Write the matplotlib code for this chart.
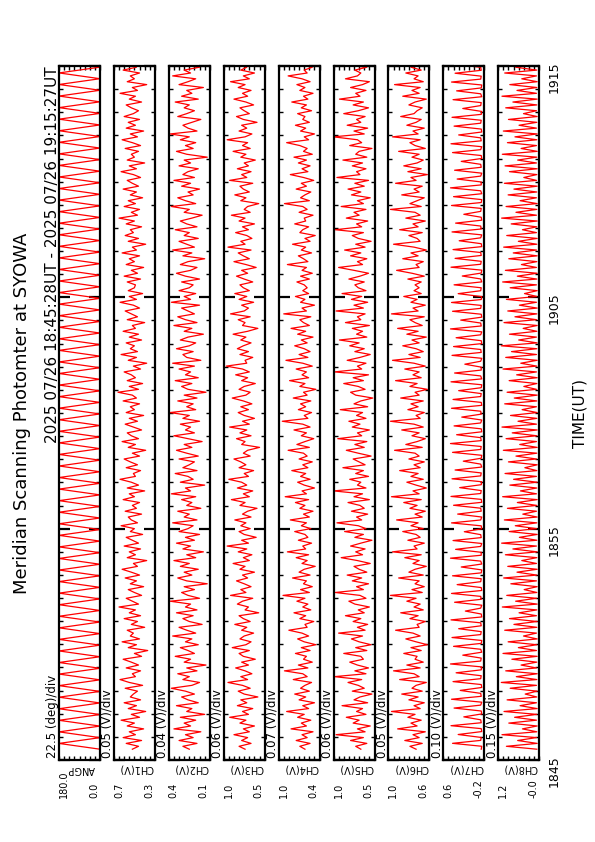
import numpy as np
import matplotlib.pyplot as plt

# figure size in pixels (portrait page, plot drawn rotated)
W, H = 595, 842

names = ['ANGP', 'CH1(V)', 'CH2(V)', 'CH3(V)', 'CH4(V)', 'CH5(V)', 'CH6(V)', 'CH7(V)', 'CH8(V)']
lows = [0.0, 0.30, 0.10, 0.50, 0.40, 0.50, 0.60, -0.20, -0.01]
highs = [180.0, 0.70, 0.42, 0.98, 0.96, 0.98, 1.00, 0.60, 1.19]
divs = ['22.5 (deg)/div', '0.05 (V)/div', '0.04 (V)/div', '0.06 (V)/div', '0.07 (V)/div',
        '0.06 (V)/div', '0.05 (V)/div', '0.10 (V)/div', '0.15 (V)/div']

# time in minutes after 18:45 UT
time_ticks = [0, 10, 20, 30]
time_labels = ['1845', '1855', '1905', '1915']
t_start, t_end = 28 / 60, 30 + 27 / 60

# scan angle (deg), turning points of each sweep
ANGP = [0, 180, 0, 180, 0, 180, 0, 180, 0, 180, 0, 180, 0, 180, 0, 180, 0, 180, 0, 180,
        0, 180, 0, 180, 0, 180, 0, 180, 0, 180, 0, 180, 0, 180, 0, 180, 0, 180, 0, 180,
        0, 180, 0, 180, 0, 180, 0, 180, 0, 180, 0, 180, 0, 180, 0, 180, 0, 180, 0, 180,
        0, 180, 0, 180, 0, 180, 0, 180, 0, 180, 0, 180, 0, 180, 0, 180, 0, 180, 0, 180,
        0, 180, 0, 180, 0, 180, 0, 180, 0, 180, 0, 180, 0, 180, 0, 180, 0, 180, 0, 180,
        0, 180, 0, 180, 0, 180, 0, 180, 0, 180, 0, 180, 0, 180, 0, 180, 0, 180, 0, 180, 0]

# photometer channels, in units of 0.01 V
CH1 = [52, 46, 58, 43, 61, 49, 55, 41, 57, 50, 63, 45, 53, 39, 56, 48, 60, 44, 54, 51,
       47, 59, 42, 55, 64, 49, 52, 44, 58, 46, 53, 61, 43, 50, 37, 56, 48, 62, 45, 54,
       51, 57, 40, 53, 47, 60, 44, 55, 49, 65, 46, 52, 58, 43, 50, 56, 41, 54, 48, 59,
       45, 53, 62, 47, 51, 38, 57, 49, 55, 44, 60, 46, 52, 58, 42, 54, 50, 63, 47, 53,
       56, 43, 59, 48, 52, 45, 61, 50, 55, 40, 57, 46, 53, 64, 49, 51, 44, 58, 47, 54,
       60, 45, 52, 39, 56, 49, 62, 46, 53, 57, 43, 51, 59, 47, 55, 41, 58, 50, 54, 45,
       61, 48, 52, 66, 46, 55, 42, 57, 49, 53, 60, 44, 51, 38, 56, 48, 63, 47, 54, 50,
       58, 43, 55, 46, 61, 49, 52, 40, 57, 47, 53, 59, 45, 51, 64, 48, 55, 42, 56, 50,
       49, 57, 44, 60, 47, 53, 41, 58, 50, 55, 45, 62, 48, 52, 39, 56, 46, 59, 51, 54,
       43, 58, 50, 65, 47, 53, 45, 60, 49, 56, 42, 54, 48, 61, 46, 52, 57, 44, 51, 63,
       48, 55, 40, 57, 50, 53, 46, 59, 44, 52, 62, 47, 54, 41, 58, 49, 56, 45, 60, 51,
       46, 53, 58, 43, 55, 49, 64, 47, 52, 38, 57, 50, 54, 45, 61, 48, 53, 42, 56, 52]

CH2 = [26, 31, 20, 34, 23, 29, 17, 38, 25, 30, 21, 33, 14, 28, 24, 36, 19, 27, 32, 22,
       29, 40, 24, 18, 31, 26, 35, 20, 28, 13, 30, 25, 37, 22, 27, 33, 19, 29, 24, 39,
       21, 28, 34, 16, 26, 31, 23, 36, 20, 29, 25, 41, 18, 27, 32, 22, 30, 12, 28, 35,
       24, 30, 19, 33, 26, 38, 21, 28, 15, 31, 25, 36, 22, 29, 18, 34, 27, 23, 39, 20,
       30, 26, 35, 17, 28, 24, 32, 21, 40, 25, 29, 14, 33, 23, 27, 37, 20, 31, 26, 22,
       34, 19, 28, 36, 24, 30, 16, 27, 38, 22, 29, 25, 33, 18, 31, 26, 41, 21, 28, 23,
       35, 20, 30, 13, 27, 32, 24, 37, 19, 29, 25, 34, 22, 39, 17, 28, 31, 23, 36, 26,
       21, 33, 27, 15, 30, 24, 38, 20, 29, 35, 22, 27, 32, 18, 40, 25, 30, 21, 34, 26,
       23, 32, 18, 29, 36, 25, 20, 33, 27, 14, 31, 24, 39, 22, 28, 34, 19, 30, 26, 37,
       20, 28, 33, 24, 16, 30, 26, 40, 21, 29, 35, 23, 27, 18, 32, 25, 38, 22, 31, 27,
       19, 34, 25, 30, 12, 28, 36, 23, 29, 21, 33, 26, 41, 20, 27, 31, 24, 17, 35, 28,
       22, 30, 26, 37, 19, 32, 24, 28, 15, 34, 27, 21, 39, 25, 30, 18, 33, 23, 29, 26]

CH3 = [73, 80, 66, 77, 70, 86, 68, 75, 62, 79, 72, 91, 69, 76, 64, 82, 71, 78, 58, 74,
       81, 67, 76, 93, 70, 78, 65, 73, 84, 69, 77, 61, 75, 80, 68, 88, 72, 66, 79, 74,
       63, 77, 71, 85, 67, 75, 80, 57, 73, 69, 82, 76, 64, 90, 72, 78, 66, 74, 83, 70,
       76, 62, 79, 73, 87, 68, 75, 65, 81, 71, 94, 69, 77, 60, 74, 80, 67, 78, 72, 85,
       66, 76, 70, 59, 79, 73, 89, 68, 75, 64, 82, 71, 77, 92, 69, 74, 63, 80, 72, 78,
       86, 67, 75, 70, 56, 77, 73, 83, 66, 79, 71, 91, 68, 76, 62, 74, 81, 69, 78, 65,
       75, 88, 72, 67, 80, 74, 61, 77, 70, 84, 68, 76, 95, 71, 73, 64, 79, 69, 82, 75,
       66, 78, 72, 87, 70, 58, 76, 73, 81, 67, 90, 74, 69, 77, 63, 80, 71, 85, 68, 75,
       79, 64, 74, 83, 70, 77, 60, 72, 86, 68, 75, 81, 66, 93, 73, 78, 65, 71, 84, 69,
       76, 62, 80, 73, 89, 67, 74, 70, 57, 78, 72, 85, 68, 75, 79, 64, 91, 71, 77, 66,
       82, 69, 74, 61, 78, 72, 87, 67, 76, 70, 94, 73, 65, 80, 71, 77, 59, 75, 83, 68,
       74, 79, 63, 72, 86, 70, 76, 66, 81, 73, 90, 68, 75, 62, 78, 71, 84, 67, 77, 73]

CH4 = [60, 67, 53, 72, 57, 64, 49, 79, 58, 65, 52, 70, 61, 85, 55, 63, 47, 68, 59, 74,
       54, 66, 60, 51, 76, 57, 63, 88, 56, 69, 50, 62, 58, 73, 53, 65, 45, 61, 70, 55,
       64, 82, 57, 60, 48, 67, 59, 75, 52, 63, 56, 71, 60, 90, 54, 66, 50, 62, 58, 77,
       53, 68, 61, 46, 64, 57, 72, 55, 84, 59, 63, 51, 69, 56, 60, 74, 52, 65, 58, 80,
       54, 62, 49, 67, 60, 73, 55, 87, 58, 64, 47, 61, 70, 53, 66, 59, 78, 56, 63, 50,
       68, 57, 62, 83, 54, 71, 60, 48, 65, 58, 75, 53, 63, 91, 56, 61, 51, 69, 59, 66,
       52, 76, 57, 62, 45, 67, 60, 81, 55, 64, 58, 72, 50, 63, 86, 56, 68, 53, 61, 74,
       57, 65, 49, 70, 59, 79, 54, 62, 67, 52, 89, 58, 64, 47, 66, 60, 73, 55, 63, 57,
       61, 71, 54, 66, 50, 64, 58, 84, 56, 62, 69, 51, 65, 59, 77, 53, 60, 46, 67, 63,
       55, 74, 59, 61, 49, 68, 57, 63, 88, 54, 66, 60, 52, 72, 58, 65, 48, 62, 80, 56,
       64, 53, 69, 58, 75, 50, 62, 57, 67, 85, 55, 61, 47, 66, 59, 73, 54, 63, 60, 70,
       51, 65, 58, 78, 56, 62, 49, 67, 60, 71, 53, 64, 83, 57, 61, 50, 68, 59, 74, 58]

CH5 = [66, 72, 59, 78, 63, 95, 61, 70, 55, 75, 68, 83, 60, 71, 64, 88, 58, 74, 67, 53,
       76, 62, 69, 81, 65, 97, 60, 73, 57, 70, 79, 63, 66, 86, 59, 72, 54, 68, 77, 64,
       92, 61, 70, 58, 75, 66, 84, 62, 69, 56, 73, 80, 60, 67, 96, 63, 71, 57, 76, 65,
       82, 59, 68, 74, 55, 70, 89, 64, 72, 61, 78, 66, 53, 73, 63, 85, 60, 69, 94, 65,
       71, 58, 77, 62, 67, 81, 56, 74, 64, 98, 60, 70, 66, 79, 57, 72, 63, 87, 61, 68,
       75, 54, 69, 83, 62, 73, 59, 93, 65, 70, 56, 76, 67, 80, 60, 71, 64, 90, 58, 74,
       66, 52, 72, 78, 61, 69, 86, 63, 75, 57, 97, 65, 70, 60, 82, 67, 55, 73, 62, 79,
       68, 91, 59, 71, 64, 76, 56, 84, 66, 70, 61, 95, 63, 74, 58, 77, 65, 88, 60, 69,
       73, 62, 80, 67, 57, 74, 92, 64, 70, 59, 78, 66, 85, 61, 72, 54, 69, 76, 63, 96,
       65, 71, 58, 83, 68, 74, 60, 89, 63, 70, 55, 77, 66, 81, 62, 73, 57, 94, 67, 71,
       60, 76, 64, 87, 59, 72, 68, 53, 79, 65, 70, 98, 62, 74, 58, 82, 66, 71, 61, 86,
       69, 57, 75, 63, 91, 67, 72, 60, 78, 64, 56, 84, 70, 66, 73, 59, 95, 62, 71, 68]

CH6 = [73, 79, 67, 84, 70, 76, 64, 91, 72, 78, 68, 81, 74, 97, 69, 75, 65, 80, 71, 87,
       67, 77, 73, 63, 89, 70, 75, 95, 69, 82, 66, 74, 72, 85, 68, 78, 62, 73, 83, 69,
       76, 93, 70, 72, 64, 79, 71, 88, 66, 75, 69, 82, 73, 98, 67, 77, 65, 74, 70, 90,
       66, 80, 74, 63, 76, 70, 84, 68, 96, 72, 75, 65, 81, 69, 73, 86, 66, 78, 71, 92,
       67, 74, 64, 79, 72, 85, 68, 97, 70, 76, 63, 73, 82, 66, 78, 71, 89, 69, 75, 65,
       80, 70, 74, 94, 67, 83, 72, 64, 77, 70, 87, 66, 75, 98, 69, 73, 65, 81, 71, 78,
       66, 88, 70, 74, 62, 79, 72, 93, 68, 76, 70, 84, 64, 75, 96, 69, 80, 66, 73, 86,
       70, 77, 63, 82, 71, 91, 67, 74, 79, 65, 97, 71, 76, 64, 78, 72, 85, 68, 75, 70,
       74, 68, 81, 65, 77, 92, 70, 73, 66, 86, 71, 78, 63, 75, 95, 69, 72, 80, 67, 89,
       71, 76, 64, 83, 69, 74, 98, 68, 79, 72, 65, 87, 70, 75, 67, 93, 73, 78, 62, 81,
       68, 85, 72, 66, 77, 70, 90, 64, 74, 79, 69, 96, 71, 76, 65, 82, 73, 68, 88, 75,
       72, 67, 80, 74, 63, 86, 70, 77, 69, 94, 66, 75, 71, 83, 68, 78, 64, 91, 73, 70]

CH7 = [-14, -15, 42, -13, -14, 31, -15, -14, 45, -14, -13, 20, -15, -14, 39, -13, -15, 44, -14, -13, 27,
       -15, -14, 41, -13, -14, 35, -14, -15, 46, -13, -14, 22, -15, -13, 40, -14, -15, 43, -13, -14, 30,
       -14, -13, 45, -15, -14, 17, -13, -15, 38, -14, -13, 44, -15, -14, 33, -13, -14, 42, -14, -15, 25,
       -15, -13, 46, -14, -14, 36, -13, -15, 41, -14, -13, 19, -15, -14, 44, -13, -15, 32, -14, -13, 40,
       -15, -14, 45, -13, -14, 28, -14, -15, 43, -13, -14, 37, -15, -13, 21, -14, -15, 42, -13, -14, 46,
       -14, -13, 34, -15, -14, 39, -13, -15, 24, -14, -13, 44, -15, -14, 41, -13, -14, 30, -14, -15, 45,
       -15, -13, 38, -14, -14, 18, -13, -15, 43, -14, -13, 40, -15, -14, 35, -13, -15, 46, -14, -13, 26,
       -15, -14, 42, -13, -14, 44, -14, -15, 31, -13, -14, 39, -15, -13, 23, -14, -15, 45, -13, -14, 37,
       -14, -13, 41, -15, -14, 29, -13, -15, 43, -14, -13, 36, -15, -14, 20, -13, -14, 44, -14, -15, 40,
       -15, -13, 46, -14, -14, 33, -13, -15, 38, -14, -13, 25, -15, -14, 42, -13, -15, 45, -14, -13, 30,
       -15, -14, 39, -13, -14, 43, -14, -15, 22, -13, -14, 41, -15, -13, 34, -14, -15, 44, -13, -14, 37,
       -14, -13, 28, -15, -14, 40]

CH8 = [6, 95, 5, 62, 7, 108, 6, 48, 5, 88, 7, 71, 6, 102, 5, 55, 7, 93, 6, 40,
       5, 84, 7, 110, 6, 66, 5, 97, 7, 52, 6, 79, 5, 105, 7, 60, 6, 90, 5, 45,
       7, 100, 6, 73, 5, 86, 7, 58, 6, 107, 5, 68, 7, 94, 6, 43, 5, 82, 7, 103,
       6, 64, 5, 91, 7, 50, 6, 98, 5, 76, 7, 109, 6, 57, 5, 87, 7, 69, 6, 101,
       5, 47, 7, 92, 6, 63, 5, 106, 7, 54, 6, 85, 5, 74, 7, 99, 6, 41, 5, 89,
       7, 67, 6, 104, 5, 56, 7, 96, 6, 78, 5, 108, 7, 61, 6, 83, 5, 49, 7, 100,
       6, 72, 5, 93, 7, 44, 6, 87, 5, 65, 7, 105, 6, 53, 5, 97, 7, 80, 6, 110,
       5, 59, 7, 86, 6, 46, 5, 102, 7, 70, 6, 91, 5, 57, 7, 95, 6, 42, 5, 84,
       7, 106, 6, 63, 5, 98, 7, 51, 6, 88, 5, 75, 7, 103, 6, 60, 5, 94, 7, 48,
       6, 81, 5, 109, 7, 67, 6, 96, 5, 55, 7, 90, 6, 73, 5, 101, 7, 44, 6, 86,
       5, 99, 7, 62, 6, 107, 5, 52, 7, 92, 6, 70, 5, 104, 7, 58, 6, 89, 5, 45,
       7, 97, 6, 76, 5, 108, 7, 64, 6, 85, 5, 50, 7, 100, 6, 68, 5, 93, 7, 56]

series = [ANGP, CH1, CH2, CH3, CH4, CH5, CH6, CH7, CH8]
scales = [1.0, 0.01, 0.01, 0.01, 0.01, 0.01, 0.01, 0.01, 0.01]


def fx(x):
    return x / W


def fy(y):
    return 1 - y / H


plt.rcParams['font.family'] = 'DejaVu Sans'
fig = plt.figure(figsize=(W / 100, H / 100), dpi=100)

top, bottom = 66, 760
pw, step, x0 = 41, 54.9, 59

for i in range(len(names)):
    vals = np.array(series[i], dtype=float) * scales[i]
    lo, hi = lows[i], highs[i]
    left = x0 + step * i
    ax = fig.add_axes([fx(left), fy(bottom), pw / W, (bottom - top) / H])
    t = np.linspace(t_start, t_end, len(vals))
    ax.plot(vals, t, color='#ff0000', lw=0.9)
    ax.set_xlim(hi, lo)
    ax.set_ylim(0, 30)

    # value axis (top/bottom edges)
    ax.set_xticks(np.linspace(lo, hi, 9))
    ax.tick_params(axis='x', direction='in', top=True, bottom=True, length=3, width=1,
                   labelbottom=False, labeltop=False)
    # time axis (left/right edges)
    ax.set_yticks(time_ticks)
    ax.set_yticks(np.arange(0, 31), minor=True)
    ax.tick_params(axis='y', which='major', direction='in', left=True, right=True,
                   length=8, width=1.6, labelleft=False, labelright=False)
    ax.tick_params(axis='y', which='minor', direction='in', left=True, right=True,
                   length=3, width=1)
    for s in ax.spines.values():
        s.set_linewidth(1.6)

    if i == len(names) - 1:
        ax.set_yticklabels(time_labels)
        ax.tick_params(axis='y', which='major', labelright=True, labelrotation=90,
                       labelsize=9, pad=6)

    # per-panel labels below and beside the strip
    fig.text(fx(left - 3), fy(758), divs[i], rotation=90, rotation_mode='anchor',
             ha='left', va='baseline', fontsize=8.5)
    fig.text(fx(left), fy(798), '%.1f' % hi, rotation=90, rotation_mode='anchor',
             ha='left', va='top', fontsize=7)
    fig.text(fx(left + pw - 1), fy(798), '%.1f' % lo, rotation=90, rotation_mode='anchor',
             ha='left', va='bottom', fontsize=7)
    fig.text(fx(left + pw / 2 + 2), fy(769), names[i], rotation=180, ha='center', va='center',
             fontsize=7)

fig.text(fx(27), fy(413), 'Meridian Scanning Photomter at SYOWA', rotation=90,
         rotation_mode='anchor', ha='center', va='baseline', fontsize=13)
fig.text(fx(57), fy(66), '2025 07/26 18:45:28UT - 2025 07/26 19:15:27UT', rotation=90,
         rotation_mode='anchor', ha='right', va='baseline', fontsize=11)
fig.text(fx(580), fy(413), 'TIME(UT)', rotation=90, ha='center', va='center', fontsize=11)

fig.savefig('out.png', dpi=100)
